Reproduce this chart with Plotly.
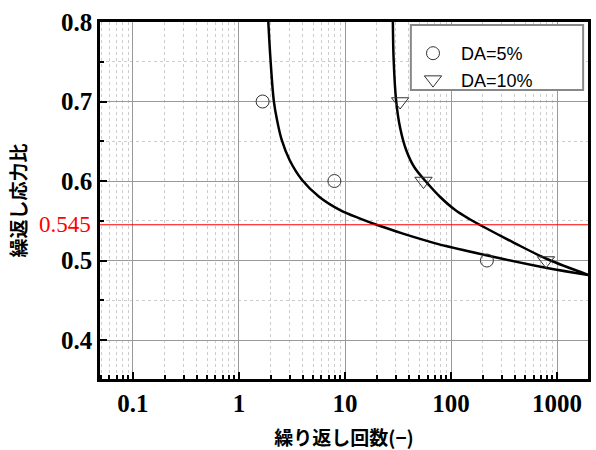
import plotly.graph_objects as go

# Data points
da5_n = [1.67, 7.94, 218]
da5_r = [0.70, 0.60, 0.50]
da10_n = [33.1, 55.0, 787]
da10_r = [0.70, 0.60, 0.50]

# Fitted curves
curve5_n = [1.891, 1.984, 2.131, 2.285, 2.530, 2.999, 3.935, 5.693, 8.989, 13.89, 21.45, 34.61, 55.01, 91.47, 219.8, 804.6, 1988]
curve5_r = [0.800, 0.7522, 0.7006, 0.6767, 0.6516, 0.6264, 0.6013, 0.5803, 0.5635, 0.5528, 0.5434, 0.5342, 0.5260, 0.5179, 0.5063, 0.4906, 0.4818]
curve10_n = [28.28, 28.77, 30.38, 33.14, 37.76, 44.94, 59.6, 79.07, 109.6, 151.8, 195.8, 389.1, 804.6, 1988]
curve10_r = [0.800, 0.7522, 0.7006, 0.6667, 0.6390, 0.6176, 0.5975, 0.5799, 0.5635, 0.5516, 0.5434, 0.5226, 0.5019, 0.4818]

threshold = 0.545

x_tickvals = [0.1, 1, 10, 100, 1000]
x_ticktext = ["0.1", "1", "10", "100", "1000"]
y_tickvals = [0.4, 0.5, 0.6, 0.7, 0.8]
y_ticktext = ["0.4", "0.5", "0.6", "0.7", "0.8"]

x_minor = [m * 10 ** e for e in range(-2, 4) for m in range(2, 10)]
y_minor = [0.35, 0.45, 0.55, 0.65, 0.75]

SERIF = "Times New Roman, Liberation Serif, serif"

fig = go.Figure()

for cn, cr in ((curve5_n, curve5_r), (curve10_n, curve10_r)):
    fig.add_trace(go.Scatter(x=cn, y=cr, mode="lines",
                             line=dict(color="black", width=2.5, shape="spline", smoothing=1.0),
                             showlegend=False, hoverinfo="skip"))
fig.add_trace(go.Scatter(x=da5_n, y=da5_r, mode="markers", name="DA=5%",
                         marker=dict(symbol="circle-open", size=13, color="#333",
                                     line=dict(width=1, color="#333"))))
fig.add_trace(go.Scatter(x=da10_n, y=da10_r, mode="markers", name="DA=10%",
                         marker=dict(symbol="triangle-down-open", size=15, color="#333",
                                     line=dict(width=1, color="#333"))))

fig.add_shape(type="line", xref="paper", x0=0, x1=1, yref="y", y0=threshold, y1=threshold,
              line=dict(color="red", width=1.2))

# legend frame
fig.add_shape(type="rect", xref="paper", yref="paper", x0=0.637, x1=0.99, y0=0.8095, y1=0.9916,
              line=dict(color="#888", width=2), fillcolor="white", layer="above")

fig.add_annotation(xref="paper", yref="y", x=0, y=threshold, xanchor="right", yanchor="middle",
                   xshift=-7, text="0.545", showarrow=False,
                   font=dict(family=SERIF, size=23, color="red"))

fig.update_layout(
    width=596, height=450,
    margin=dict(l=100, r=8, t=22, b=71),
    plot_bgcolor="white", paper_bgcolor="white",
    showlegend=True,
    legend=dict(x=0.625, y=0.9636, xanchor="left", yanchor="top",
                bgcolor="rgba(0,0,0,0)", borderwidth=0, itemwidth=46,
                font=dict(family="Liberation Sans", size=18, color="black"),
                tracegroupgap=0),
)

common = dict(ticks="inside", ticklen=7, tickwidth=1.5, tickcolor="black",
              showline=True, linecolor="black", linewidth=2.5, mirror=True,
              showgrid=True, gridcolor="#999", gridwidth=1, automargin=False,
              tickfont=dict(family=SERIF, size=25, color="black", weight="bold"),
              zeroline=False)

fig.update_xaxes(type="log", range=[-1.311, 3.292],
                 tickvals=x_tickvals, ticktext=x_ticktext,
                 minor=dict(tickvals=x_minor, ticks="inside", ticklen=4, tickcolor="black",
                            showgrid=True, gridcolor="#ccc", griddash="dot", gridwidth=1),
                 title=dict(text="繰り返し回数(−)", standoff=20,
                            font=dict(family="Noto Sans CJK JP", size=19, color="black", weight="bold")),
                 **common)
fig.update_yaxes(range=[0.351, 0.8],
                 tickvals=y_tickvals, ticktext=y_ticktext,
                 minor=dict(tickvals=y_minor, ticks="inside", ticklen=4, tickcolor="black",
                            showgrid=True, gridcolor="#ccc", griddash="dot", gridwidth=1),
                 title=dict(text="繰返し応力比", standoff=30,
                            font=dict(family="Noto Sans CJK JP", size=19, color="black", weight="bold")),
                 **common)

fig.write_html("out.html", config={"displayModeBar": False},
               post_script="document.body.style.margin='0';")
